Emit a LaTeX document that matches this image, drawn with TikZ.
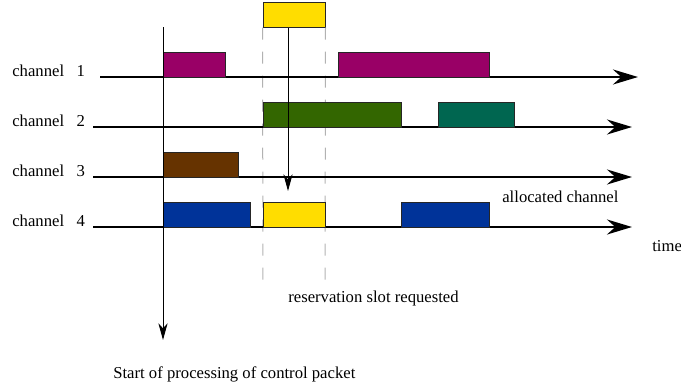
\documentclass[tikz,border=0pt]{standalone}
\usepackage{fontspec}
\setmainfont{Liberation Serif}
\usetikzlibrary{arrows.meta, fit}
\definecolor{slotmag}{RGB}{153,0,102}
\definecolor{slotgreen}{RGB}{51,102,0}
\definecolor{slotteal}{RGB}{0,102,80}
\definecolor{slotbrown}{RGB}{102,51,0}
\definecolor{slotblue}{RGB}{0,51,153}
\definecolor{slotyellow}{RGB}{255,221,0}

\begin{document}
\begin{tikzpicture}[
  x=0.6pt, y=-0.6pt,
  font=\fontsize{10}{12}\selectfont,
  slot/.style={draw=black!85, line width=0.6pt, inner sep=0pt},
  axis/.style={-{Stealth[length=15pt, width=9pt, inset=5pt]}, line width=1.6pt},
  marker/.style={-{Stealth[length=10pt, width=5.5pt, inset=3pt]}, line width=0.6pt},
  guide/.style={draw=black!30, line width=0.6pt, dash pattern=on 7.2pt off 7.2pt},
  lbl/.style={anchor=base west, inner sep=0pt}
]
\useasboundingbox (0,0) rectangle (681,390);

% reservation slot guides
\coordinate (gl) at (263,290);
\coordinate (gr) at (325,290);

% channel axes
\coordinate (a1s) at (100,77); \coordinate (a1e) at (638,77);
\coordinate (a2s) at (93,127);  \coordinate (a2e) at (632,127);
\coordinate (a3s) at (93,177);  \coordinate (a3e) at (632,177);
\coordinate (a4s) at (93,227);  \coordinate (a4e) at (632,227);

\node[lbl] (l1) at (12,76)  {channel\ \ \ 1};
\node[lbl] (l2) at (12,126) {channel\ \ \ 2};
\node[lbl] (l3) at (12,176) {channel\ \ \ 3};
\node[lbl] (l4) at (12,226) {channel\ \ \ 4};

% requested slot
\node[slot, fit={(263,2) (325,27)}, fill=slotyellow] (req) {};
\draw[guide] (req.south west) -- (gl);
\draw[guide] (req.south east) -- (gr);

\draw[axis] (a1s) -- (a1e);
\draw[axis] (a2s) -- (a2e);
\draw[axis] (a3s) -- (a3e);
\draw[axis] (a4s) -- (a4e);

% busy slots
\node[slot, fit={(163,52) (225,77)},   fill=slotmag]    (c1a) {};
\node[slot, fit={(338,52) (489,77)},   fill=slotmag]    (c1b) {};
\node[slot, fit={(263,102) (401,127)}, fill=slotgreen]  (c2a) {};
\node[slot, fit={(438,102) (514,127)}, fill=slotteal]   (c2b) {};
\node[slot, fit={(163,152) (238,177)}, fill=slotbrown]  (c3a) {};
\node[slot, fit={(163,202) (250,227)}, fill=slotblue]   (c4a) {};
\node[slot, fit={(263,202) (325,227)}, fill=slotyellow] (c4b) {};
\node[slot, fit={(401,202) (489,227)}, fill=slotblue]   (c4c) {};

% processing start and request
\coordinate (st) at (163,27);
\coordinate (se) at (163,340);
\coordinate (re) at (288,191);
\draw[marker] (st) -- (se);
\draw[marker] (req.south -| re) -- (re);

\node[lbl] (alloc) at (502,202) {allocated channel};
\node[lbl] (time)  at (652,251) {time};
\node[lbl] (rsv)   at (288,302) {reservation slot requested};
\node[lbl] (start) at (113,378) {Start of processing of control packet};
\end{tikzpicture}
\end{document}
